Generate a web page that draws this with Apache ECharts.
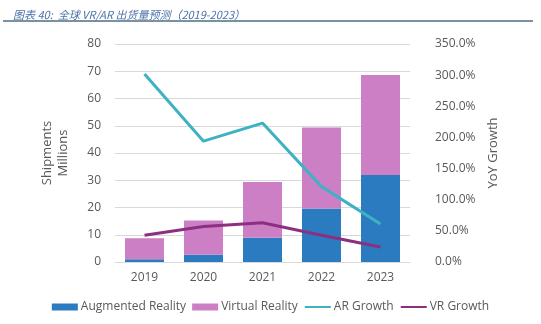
<!DOCTYPE html>
<html><head><meta charset="utf-8">
<script src="https://cdn.jsdelivr.net/npm/echarts@6/dist/echarts.min.js"></script>
<style>html,body{margin:0;padding:0;background:#fff}#c{width:541px;height:324px}</style>
</head><body><div id="c"></div>
<script>
const years = ['2019','2020','2021','2022','2023'];
const arShipments = [1.0, 2.7, 8.9, 19.6, 31.9];
const vrShipments = [7.7, 12.5, 20.5, 29.8, 36.7];
const arGrowth = [302, 194, 223, 121, 61];
const vrGrowth = [43, 57, 63, 43, 24];
const titleText = '图表 40:  全球 VR/AR 出货量预测（2019-2023）';

const chart = echarts.init(document.getElementById('c'), null, {renderer:'canvas'});
const lab = {color:'#595959', fontSize:12, fontFamily:'Open Sans'};
const hideSym = {color:'transparent', borderColor:'transparent', borderWidth:0};
chart.setOption({
  animation:false,
  backgroundColor:'#fff',
  title:{text:titleText, left:8, top:4, textStyle:{fontSize:11, fontStyle:'italic', fontWeight:'normal', color:'#4a72a8', fontFamily:'Noto Sans CJK SC'}},
  graphic:[{type:'line', shape:{x1:3,y1:21,x2:533,y2:21}, style:{stroke:'#4f6d82', lineWidth:1.5}}],
  grid:{left:115, right:131, top:44, bottom:62},
  legend:{bottom:6, left:'center', itemGap:6, itemWidth:26, itemHeight:7,
    textStyle:{color:'#595959', fontSize:12, fontFamily:'Open Sans', padding:[0,0,0,-2]},
    data:[{name:'Augmented Reality', icon:'rect'},{name:'Virtual Reality', icon:'rect'},
          {name:'AR Growth', itemStyle:hideSym},{name:'VR Growth', itemStyle:hideSym}]},
  xAxis:{type:'category', data:years, axisTick:{show:false},
    axisLine:{lineStyle:{color:'#d9d9d9'}}, axisLabel:Object.assign({margin:10}, lab)},
  yAxis:[
    {type:'value', min:0, max:80, interval:10, name:'Shipments\nMillions', nameLocation:'middle', nameGap:44, nameRotate:90,
     nameTextStyle:{color:'#595959', fontSize:13, fontFamily:'Open Sans', lineHeight:16},
     axisLabel:Object.assign({margin:14}, lab), splitLine:{lineStyle:{color:'#d9d9d9'}}, axisLine:{show:false}, axisTick:{show:false}},
    {type:'value', min:0, max:350, interval:50, name:'YoY Growth', nameLocation:'middle', nameGap:58, nameRotate:90,
     nameTextStyle:{color:'#595959', fontSize:13, fontFamily:'Open Sans'},
     axisLabel:Object.assign({margin:25, formatter:v=>v.toFixed(1)+'%'}, lab), splitLine:{show:false}, axisLine:{show:false}, axisTick:{show:false}}
  ],
  series:[
    {name:'Augmented Reality', type:'bar', stack:'s', data:arShipments, barWidth:39, itemStyle:{color:'#2a7bbf'}},
    {name:'Virtual Reality', type:'bar', stack:'s', data:vrShipments, barWidth:39, itemStyle:{color:'#cd7fc6'}},
    {name:'AR Growth', type:'line', yAxisIndex:1, data:arGrowth, symbol:'none', lineStyle:{color:'#3eb2c2', width:3}, itemStyle:{color:'#3eb2c2'}},
    {name:'VR Growth', type:'line', yAxisIndex:1, data:vrGrowth, symbol:'none', lineStyle:{color:'#8c2f80', width:3}, itemStyle:{color:'#8c2f80'}}
  ]
});
</script></body></html>
